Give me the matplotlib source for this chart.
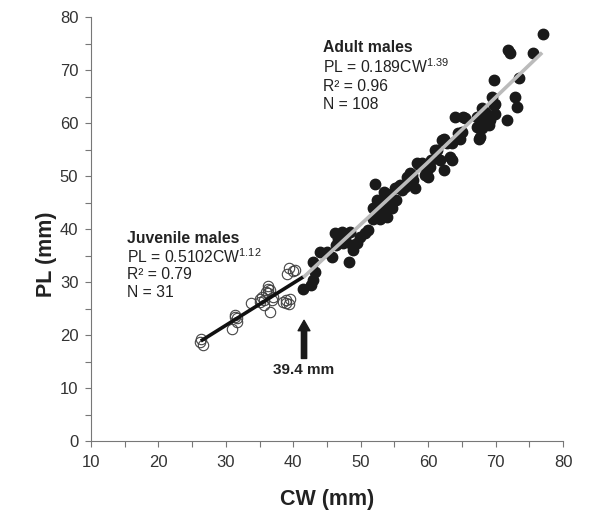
import matplotlib.pyplot as plt
from matplotlib.ticker import MultipleLocator

plt.rcParams['font.family'] = ['Liberation Sans', 'DejaVu Sans']
plt.rcParams['mathtext.default'] = 'regular'

# juvenile males (open circles)
juv_cw = [26.4, 26.6, 30.9, 31.4, 31.7, 31.6, 33.8, 35.3, 35.1, 36.2, 36.6,
          36.0, 36.5, 35.6, 36.8, 38.9, 39.3, 38.5, 39.4, 39.9, 39.1, 36.2,
          35.1, 31.4, 26.2, 39.5, 39.0, 37.0, 36.3, 40.3, 35.6]
juv_pl = [19.2, 18.2, 21.1, 23.8, 23.2, 22.5, 26.1, 27.2, 26.3, 29.2, 28.6,
          28.2, 24.4, 25.7, 26.6, 26.6, 25.8, 26.3, 32.6, 32.1, 31.5, 28.8,
          26.9, 23.5, 18.7, 26.9, 26.0, 27.2, 27.9, 32.3, 26.6]

# adult males (filled dots)
adu_cw = [41.5, 43.0, 43.2, 43.0, 42.7, 45.0, 45.7, 48.2, 46.2, 46.7, 47.4,
          48.4, 47.2, 48.7, 48.9, 49.9, 50.7, 49.4, 51.9, 52.9, 53.9, 53.4,
          54.6, 52.1, 51.9, 52.9, 53.9, 54.1, 53.4, 54.4, 55.1, 55.8, 52.4,
          55.6, 56.8, 56.6, 58.1, 57.8, 57.3, 58.3, 59.1, 59.8, 60.0, 60.3,
          59.6, 61.0, 62.0, 62.8, 63.3, 62.3, 63.5, 61.8, 64.5, 65.0, 64.7,
          64.0, 65.2, 67.5, 67.2, 67.2, 68.0, 68.5, 68.2, 69.0, 69.2, 69.7,
          69.9, 69.5, 68.5, 68.0, 69.0, 71.7, 72.9, 73.2, 69.7, 77.1, 71.9,
          72.2, 75.6, 73.4, 69.9, 68.7, 67.7, 65.5, 63.5, 47.7, 58.6, 57.6,
          61.3, 62.3, 44.0, 51.1, 55.3, 56.1, 60.4, 46.4, 52.6]
adu_pl = [28.8, 33.8, 31.9, 30.4, 29.4, 35.7, 34.8, 33.8, 39.2, 38.2, 37.3,
          39.5, 39.5, 37.0, 36.0, 38.5, 39.2, 37.3, 42.0, 42.0, 42.3, 43.6,
          43.9, 48.6, 43.9, 45.2, 46.7, 43.9, 47.0, 45.8, 47.7, 48.3, 45.5,
          48.0, 49.9, 48.0, 47.7, 49.2, 50.5, 52.4, 52.4, 51.1, 49.9, 51.8,
          50.2, 54.9, 56.8, 56.2, 53.6, 51.1, 53.0, 53.0, 58.1, 58.4, 57.1,
          61.2, 61.2, 57.1, 59.3, 61.2, 62.8, 62.1, 60.6, 61.2, 60.6, 63.4,
          61.8, 65.0, 59.9, 59.0, 59.6, 60.6, 65.0, 63.1, 68.1, 76.9, 73.8,
          73.2, 73.2, 68.6, 63.7, 61.5, 57.4, 60.9, 56.2, 38.3, 52.1, 50.2,
          54.9, 57.1, 35.7, 39.8, 45.5, 47.4, 53.0, 37.0, 43.2]

# fitted lines as drawn
juv_line_cw = [26.3, 41.5]
juv_line_pl = [18.9, 31.0]
adu_line_cw = [41.5, 59.8, 76.9]
adu_line_pl = [30.9, 52.4, 73.3]

fig = plt.figure(figsize=(6.14, 5.19), dpi=100)
ax = fig.add_axes([0.148, 0.150, 0.769, 0.817])

ax.plot(juv_cw, juv_pl, 'o', ms=7.5, mfc='none', mec='#444444', mew=0.8)
ax.plot(adu_cw, adu_pl, 'o', ms=7.5, mfc='#1a1a1a', mec='#1a1a1a')
ax.plot(juv_line_cw, juv_line_pl, color='#111111', lw=2.6, solid_capstyle='butt')
ax.plot(adu_line_cw, adu_line_pl, color='#bbbbbb', lw=2.6, solid_capstyle='butt')

ax.annotate('', xy=(41.6, 22.8), xytext=(41.6, 15.6),
            arrowprops=dict(arrowstyle='simple,head_width=0.85,head_length=0.75,tail_width=0.38',
                            color='#1a1a1a', mutation_scale=10, shrinkA=0, shrinkB=0))
ax.text(41.6, 13.4, '39.4 mm', ha='center', va='center', fontsize=11,
        fontweight='bold', color='#222222')

tc = '#222222'
fs = 11.3
ax.text(15.3, 38.2, 'Juvenile males', fontsize=fs, fontweight='bold', color=tc, va='center')
ax.text(15.3, 34.9, 'PL = 0.5102CW$^{1.12}$', fontsize=fs, color=tc, va='center')
ax.text(15.3, 31.5, 'R² = 0.79', fontsize=fs, color=tc, va='center')
ax.text(15.3, 28.1, 'N = 31', fontsize=fs, color=tc, va='center')

ax.text(44.4, 74.2, 'Adult males', fontsize=fs, fontweight='bold', color=tc, va='center')
ax.text(44.4, 70.6, 'PL = 0.189CW$^{1.39}$', fontsize=fs, color=tc, va='center')
ax.text(44.4, 67.0, 'R² = 0.96', fontsize=fs, color=tc, va='center')
ax.text(44.4, 63.6, 'N = 108', fontsize=fs, color=tc, va='center')

ax.set_xlim(10, 80)
ax.set_ylim(0, 80)
ax.xaxis.set_major_locator(MultipleLocator(10))
ax.xaxis.set_minor_locator(MultipleLocator(5))
ax.yaxis.set_major_locator(MultipleLocator(10))
ax.yaxis.set_minor_locator(MultipleLocator(5))
ax.tick_params(which='both', direction='out', length=4, width=0.8,
               color='#777777', labelsize=12, labelcolor='#333333')
ax.tick_params(axis='x', pad=6)
ax.tick_params(axis='y', pad=5)

for s in ['top', 'right']:
    ax.spines[s].set_visible(False)
for s in ['left', 'bottom']:
    ax.spines[s].set_color('#777777')
    ax.spines[s].set_linewidth(0.8)

ax.set_xlabel('CW (mm)', fontsize=15.5, fontweight='bold', color='#222222')
ax.set_ylabel('PL (mm)', fontsize=15.5, fontweight='bold', color='#222222')
ax.xaxis.set_label_coords(0.5, -0.112)
ax.yaxis.set_label_coords(-0.072, 0.44)

fig.savefig('out.png', dpi=100)
